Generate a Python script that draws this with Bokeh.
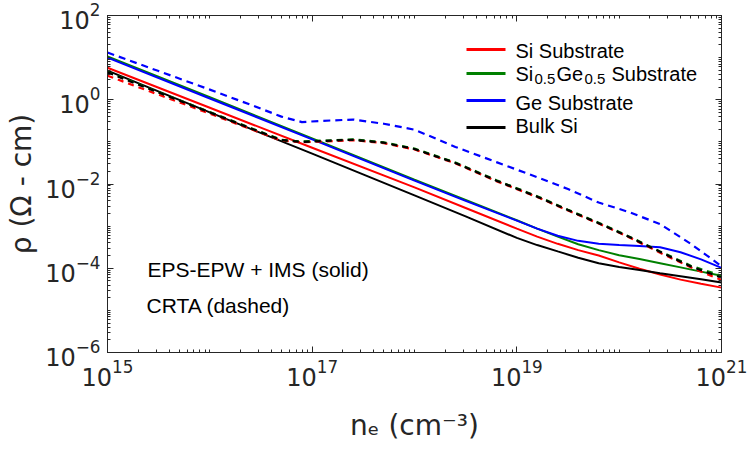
from bokeh.plotting import figure
from bokeh.models import (Range1d, FixedTicker, LogAxis, Label, BoxAnnotation,
                          CustomJSTickFormatter)
from bokeh.embed import file_html
from bokeh.resources import INLINE

# ---------------- data ----------------
# solid curves: EPS-EPW + IMS
ne_solid = [1e15, 1e16, 1e17, 1e18, 3.16e18, 1e19, 1.58e19, 2.51e19, 3.98e19,
            6.31e19, 1e20, 1.58e20, 2.51e20, 3.98e20, 6.31e20, 1e21]
rho_si_solid = [5.75, 0.646, 0.0724, 8.32e-3, 2.69e-3, 8.71e-4, 5.62e-4, 3.80e-4,
                2.69e-4, 2.00e-4, 1.38e-4, 9.77e-5, 7.08e-5, 5.37e-5, 4.27e-5, 3.47e-5]
rho_sige_solid = [10.7, 1.15, 0.120, 0.0126, 4.17e-3, 1.38e-3, 8.71e-4, 5.62e-4,
                  3.72e-4, 2.69e-4, 2.04e-4, 1.66e-4, 1.32e-4, 1.05e-4, 8.32e-5, 6.61e-5]
rho_ge_solid = [10.0, 1.07, 0.115, 0.0120, 3.98e-3, 1.35e-3, 8.71e-4, 5.89e-4,
                4.47e-4, 3.80e-4, 3.55e-4, 3.39e-4, 3.16e-4, 2.40e-4, 1.62e-4, 1.02e-4]
rho_bulk_solid = [4.90, 0.501, 0.0525, 5.37e-3, 1.70e-3, 5.25e-4, 3.55e-4, 2.51e-4,
                  1.78e-4, 1.32e-4, 1.07e-4, 9.12e-5, 7.59e-5, 6.46e-5, 5.50e-5, 4.57e-5]

# dashed curves: CRTA
ne_dashed = [1e15, 3.16e15, 1e16, 2.51e16, 5.01e16, 7.94e16, 1.26e17, 2.51e17,
             5.01e17, 1e18, 2.51e18, 6.31e18, 1.58e19, 3.16e19, 6.31e19, 1.26e20,
             2.51e20, 5.01e20, 1e21]
rho_si_dashed = [3.72, 1.32, 0.468, 0.200, 0.107, 0.0977, 0.102, 0.110, 0.0933,
                 0.0661, 0.0309, 0.0117, 4.90e-3, 2.34e-3, 1.15e-3, 5.37e-4,
                 2.34e-4, 1.05e-4, 5.25e-5]
rho_sige_dashed = [4.57, 1.51, 0.510, 0.213, 0.112, 0.102, 0.107, 0.115, 0.0977,
                   0.0692, 0.0324, 0.0123, 5.13e-3, 2.45e-3, 1.20e-3, 5.62e-4,
                   2.51e-4, 1.15e-4, 6.61e-5]
rho_ge_dashed = [13.2, 4.79, 1.74, 0.759, 0.398, 0.295, 0.316, 0.339, 0.269, 0.195,
                 0.0759, 0.0331, 0.0145, 7.59e-3, 3.63e-3, 2.14e-3, 1.12e-3,
                 3.80e-4, 1.12e-4]
rho_bulk_dashed = [4.47, 1.48, 0.501, 0.209, 0.110, 0.100, 0.105, 0.112, 0.0955,
                   0.0676, 0.0316, 0.0120, 5.01e-3, 2.40e-3, 1.17e-3, 5.50e-4,
                   2.45e-4, 1.10e-4, 6.03e-5]

series_names = ["Si Substrate", "Si0.5Ge0.5 Substrate", "Ge Substrate", "Bulk Si"]
series_colors = ["#ff0000", "#008000", "#0000ff", "#000000"]

x_major = [1e15, 1e17, 1e19, 1e21]
x_minor = [m * 10.0 ** e for e in range(15, 21) for m in range(1, 10)]
y_major = [1e-6, 1e-4, 1e-2, 1e0, 1e2]
y_minor = [m * 10.0 ** e for e in range(-6, 2) for m in range(1, 10)]

# ---------------- figure ----------------
AX = "#262626"
p = figure(width=752, height=453, x_axis_type="log", y_axis_type="log",
           x_range=Range1d(1e15, 1e21), y_range=Range1d(1e-6, 1e2),
           output_backend="svg", toolbar_location=None,
           min_border_left=107, min_border_right=31, min_border_top=15,
           min_border_bottom=101)
p.background_fill_color = "white"
p.border_fill_color = "white"
p.outline_line_color = AX
p.xgrid.visible = False
p.ygrid.visible = False

def style_axis(ax, ticks, minor):
    ax.ticker = FixedTicker(ticks=ticks, minor_ticks=minor)
    ax.axis_line_color = AX
    ax.major_tick_line_color = AX
    ax.minor_tick_line_color = AX
    ax.major_tick_in = 6
    ax.major_tick_out = 0
    ax.minor_tick_in = 3
    ax.minor_tick_out = 0

style_axis(p.xaxis[0], x_major, x_minor)
style_axis(p.yaxis[0], y_major, y_minor)
for ax in (p.xaxis[0], p.yaxis[0]):
    ax.major_label_text_font = "DejaVu Sans"
    ax.major_label_text_font_size = "24px"
    ax.major_label_text_color = AX
    ax.axis_label_text_font = "DejaVu Sans"
    ax.axis_label_text_font_size = "28px"
    ax.axis_label_text_font_style = "normal"
    ax.axis_label_text_color = AX
p.xaxis[0].axis_label = "n\u2091 (cm\u207b\u00b3)"
p.yaxis[0].axis_label = "\u03c1 (\u03a9 - cm)"
p.xaxis[0].major_label_standoff = 6
p.yaxis[0].major_label_standoff = 7
p.xaxis[0].axis_label_standoff = 20
p.yaxis[0].axis_label_standoff = 4

blank = CustomJSTickFormatter(code="return ''")
top = LogAxis(formatter=blank)
style_axis(top, x_major, x_minor)
p.add_layout(top, "above")
right = LogAxis(formatter=blank)
style_axis(right, y_major, y_minor)
p.add_layout(right, "right")

# ---------------- curves ----------------
solids = [rho_si_solid, rho_sige_solid, rho_ge_solid, rho_bulk_solid]
dashed = [rho_si_dashed, rho_sige_dashed, rho_ge_dashed, rho_bulk_dashed]
for ys, c in zip(solids, series_colors):
    p.line(ne_solid, ys, line_color=c, line_width=2)
for ys, c in zip(dashed, series_colors):
    p.line(ne_dashed, ys, line_color=c, line_width=2.2,
           line_dash="7 5" if c == "#0000ff" else "6 5")

# ---------------- legend (manual, for subscripts) ----------------
LF = "Liberation Sans"
leg_y = [303, 279, 252, 225]     # sample line centres (px above frame bottom)
base_y = [302, 279, 250, 227]    # text baselines
for yc, c in zip(leg_y, series_colors):
    p.add_layout(BoxAnnotation(left=359, right=398, bottom=yc - 1.5, top=yc + 1.5,
                               left_units="screen", right_units="screen",
                               bottom_units="screen", top_units="screen",
                               fill_color=c, fill_alpha=1, line_color=None))

def lab(x, y, t, size="20px", font=LF):
    p.add_layout(Label(x=x, y=y, x_units="screen", y_units="screen", text=t,
                       text_font=font, text_font_size=size,
                       text_baseline="alphabetic", text_color="black"))

lab(408, base_y[0], series_names[0])
lab(408, base_y[1], "Si")
lab(427, base_y[1] - 5, "0.5", size="15px")
lab(449, base_y[1], "Ge")
lab(477, base_y[1] - 5, "0.5", size="15px")
lab(504, base_y[1], "Substrate")
lab(408, base_y[2], series_names[2])
lab(408, base_y[3], series_names[3])

# ---------------- annotations ----------------
lab(40, 83, "EPS-EPW + IMS (solid)", size="21px")
lab(39, 47, "CRTA (dashed)", size="21px")

open("out.html", "w").write(file_html(p, INLINE))
